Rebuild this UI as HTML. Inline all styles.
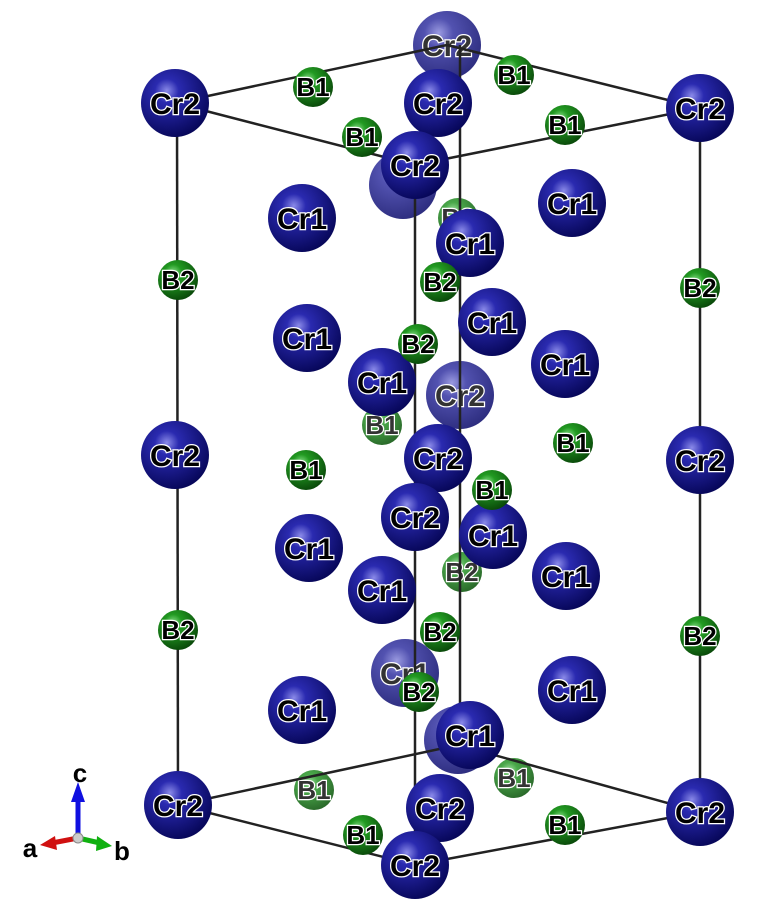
<!DOCTYPE html>
<html><head><meta charset="utf-8"><style>
html,body{margin:0;padding:0;background:#fff;}
svg{display:block;}
text{font-family:"Liberation Sans",Arial,sans-serif;font-weight:bold;}
</style></head><body>
<svg id="s" width="762" height="910" viewBox="0 0 762 910" xmlns="http://www.w3.org/2000/svg">
<defs>
<radialGradient id="gcr" cx="0.38" cy="0.32" r="0.7">
<stop offset="0" stop-color="#8a8ae8"/><stop offset="0.25" stop-color="#2a2ab0"/><stop offset="1" stop-color="#07075a"/></radialGradient>
<radialGradient id="gcrf" cx="0.38" cy="0.32" r="0.7">
<stop offset="0" stop-color="#9a9ae0"/><stop offset="0.3" stop-color="#5252b0"/><stop offset="1" stop-color="#2e2e80"/></radialGradient>
<radialGradient id="gb" cx="0.38" cy="0.32" r="0.7">
<stop offset="0" stop-color="#8ae08a"/><stop offset="0.3" stop-color="#229a22"/><stop offset="1" stop-color="#0a4a0a"/></radialGradient>
<radialGradient id="gbf" cx="0.38" cy="0.32" r="0.7">
<stop offset="0" stop-color="#a0e0a0"/><stop offset="0.3" stop-color="#4aa84a"/><stop offset="1" stop-color="#2a6a2a"/></radialGradient>
</defs>
<g id="faded"></g><g id="lines"></g><g id="atoms"></g>
<g>
<line x1="78" y1="838" x2="78" y2="800" stroke="#1010e0" stroke-width="5"/>
<polygon points="78,782 71,802 85,802" fill="#1010e0"/>
<line x1="78" y1="838" x2="52" y2="843" stroke="#d01010" stroke-width="5"/>
<polygon points="40,845 55,836 57,850" fill="#d01010"/>
<line x1="78" y1="838" x2="100" y2="843" stroke="#10b010" stroke-width="5"/>
<polygon points="112,846 97,836 96,851" fill="#10b010"/>
<circle cx="78" cy="838" r="5" fill="#ccc" stroke="#888"/>
<text x="80" y="782" font-size="26" text-anchor="middle">c</text>
<text x="30" y="857" font-size="26" text-anchor="middle">a</text>
<text x="122" y="860" font-size="26" text-anchor="middle">b</text>
</g>
</svg>
<script>
const NS="http://www.w3.org/2000/svg";
// [x, y, label, faded]
const crAtoms=[
[447,45,"Cr2",1],[403,185,"",1],[460,395,"Cr2",1],[405,673,"Cr1",1],[458,740,"",1],
[175,103,"Cr2",0],[438,103,"Cr2",0],[700,108,"Cr2",0],[415,165,"Cr2",0],
[302,218,"Cr1",0],[572,203,"Cr1",0],[470,243,"Cr1",0],[307,338,"Cr1",0],[492,322,"Cr1",0],
[565,364,"Cr1",0],[382,382,"Cr1",0],[175,455,"Cr2",0],[438,458,"Cr2",0],[700,460,"Cr2",0],
[493,535,"Cr1",0],[415,517,"Cr2",0],[309,548,"Cr1",0],[566,576,"Cr1",0],[382,590,"Cr1",0],
[302,710,"Cr1",0],[572,690,"Cr1",0],[470,735,"Cr1",0],[178,805,"Cr2",0],[440,808,"Cr2",0],
[700,812,"Cr2",0],[415,865,"Cr2",0]];
const bAtoms=[
[382,425,"B1",1],[458,218,"B2",1],[462,572,"B2",1],[514,778,"B1",1],[314,790,"B1",1],
[313,87,"B1",0],[514,75,"B1",0],[362,137,"B1",0],[565,125,"B1",0],[573,443,"B1",0],
[306,470,"B1",0],[492,490,"B1",0],[363,835,"B1",0],[565,825,"B1",0],
[178,280,"B2",0],[440,282,"B2",0],[418,344,"B2",0],[700,288,"B2",0],[178,630,"B2",0],
[440,632,"B2",0],[419,692,"B2",0],[700,636,"B2",0]];
const bonds=[[175,103,447,45],[447,45,700,108],[175,103,415,165],[700,108,415,165],
[178,805,458,745],[458,745,700,812],[178,805,415,865],[700,812,415,865],
[177,103,178,805],[700,108,700,812],[415,165,415,865],[460,45,460,745]];
const L=document.getElementById('lines');
bonds.forEach(b=>{const l=document.createElementNS(NS,'line');
l.setAttribute('x1',b[0]);l.setAttribute('y1',b[1]);l.setAttribute('x2',b[2]);l.setAttribute('y2',b[3]);
l.setAttribute('stroke','#222');l.setAttribute('stroke-width','2.5');


L.appendChild(l);});
const all=[];
crAtoms.forEach(a=>all.push({x:a[0],y:a[1],t:a[2],f:a[3],cr:1}));
bAtoms.forEach(a=>all.push({x:a[0],y:a[1],t:a[2],f:a[3],cr:0}));
all.sort((p,q)=>(q.f-p.f));
all.forEach(a=>{
 const g=document.createElementNS(NS,'g');
 
 
 const c=document.createElementNS(NS,'circle');
 c.setAttribute('cx',a.x);c.setAttribute('cy',a.y);c.setAttribute('r',a.cr?34:20);
 c.setAttribute('fill','url(#g'+(a.cr?'cr':'b')+(a.f?'f':'')+')');
 g.appendChild(c);
 if(a.t){const t=document.createElementNS(NS,'text');
  t.setAttribute('x',a.x);t.setAttribute('y',a.y+(a.cr?11:9));
  t.setAttribute('text-anchor','middle');t.setAttribute('font-size',a.cr?30:26);
  t.setAttribute('fill',a.f?'#333':'#000');t.setAttribute('stroke','#fff');t.setAttribute('stroke-width','2.5');
  t.setAttribute('paint-order','stroke');t.textContent=a.t;
  
  
  g.appendChild(t);}
 document.getElementById(a.f?'faded':'atoms').appendChild(g);
});
</script>
</body></html>
